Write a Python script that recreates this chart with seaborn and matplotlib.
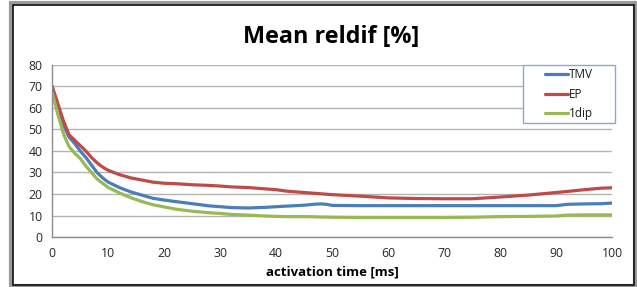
import pandas as pd
import numpy as np
import matplotlib.pyplot as plt
import seaborn as sns
from matplotlib.patches import Rectangle

# activation time [ms] and mean reldif [%]
t_ms = [0, 1, 2, 3, 4, 5, 6, 7, 8, 9, 10, 12, 14, 16, 18, 20, 22, 25, 28, 30,
        32, 35, 38, 40, 42, 45, 47, 48, 49, 50, 55, 60, 65, 70, 75, 80, 85, 90,
        92, 95, 98, 100]

tmv = [69, 60, 52, 46.5, 43.5, 40, 37, 33.5, 30, 27.5, 25.5, 23, 21, 19.5, 18,
       17.2, 16.5, 15.5, 14.5, 14.1, 13.7, 13.5, 13.8, 14.1, 14.4, 14.8, 15.3,
       15.4, 15.2, 14.7, 14.6, 14.6, 14.6, 14.6, 14.6, 14.6, 14.6, 14.6, 15.2,
       15.4, 15.5, 15.8]

ep = [70, 62, 54, 47.5, 45, 42.5, 40, 37, 34.5, 32.5, 31, 29, 27.5, 26.5, 25.5,
      25, 24.8, 24.3, 24, 23.7, 23.3, 23, 22.4, 22, 21.3, 20.7, 20.3, 20.1,
      19.9, 19.7, 19, 18.2, 17.9, 17.8, 17.8, 18.6, 19.5, 20.7, 21.2, 22, 22.7,
      22.9]

dip1 = [67, 57, 48, 42, 39, 36.5, 33, 30, 27, 25, 23, 20.5, 18.3, 16.5, 15, 14,
        13, 12, 11.3, 11, 10.5, 10.2, 9.8, 9.6, 9.5, 9.5, 9.4, 9.3, 9.3, 9.2,
        9.1, 9.1, 9.1, 9.1, 9.2, 9.5, 9.6, 9.8, 10.2, 10.3, 10.3, 10.3]

series_names = ['TMV', 'EP', '1dip']
colors = ['#4A7EBB', '#BE4B48', '#98B954']

df = pd.DataFrame({'t': t_ms * 3,
                   'val': tmv + ep + dip1,
                   'series': [s for s in series_names for _ in t_ms]})

sns.set_style('white')
plt.rcParams['font.family'] = ['Open Sans', 'DejaVu Sans']

fig = plt.figure(figsize=(6.37, 2.87), dpi=100)
ax = fig.add_axes([0.082, 0.174, 0.879, 0.60])

sns.lineplot(data=df, x='t', y='val', hue='series', hue_order=series_names,
             palette=colors, linewidth=2.3, ax=ax)

ax.set_xlim(0, 100)
ax.set_ylim(0, 80)
ax.set_xticks(np.arange(0, 101, 10))
ax.set_yticks(np.arange(0, 81, 10))
ax.yaxis.grid(True, color='#B4B4B4', linewidth=1)
ax.xaxis.grid(False)
ax.set_axisbelow(True)
for s in ['top', 'right']:
    ax.spines[s].set_visible(False)
for s in ['left', 'bottom']:
    ax.spines[s].set_color('#8C8C8C')
    ax.spines[s].set_linewidth(1)
ax.tick_params(axis='both', direction='out', length=4, width=1, color='#8C8C8C',
               labelsize=8.8, labelcolor='#262626', pad=3)

ax.set_xlabel('activation time [ms]', fontsize=9.5, fontweight='bold',
              color='black', labelpad=4)
ax.set_ylabel('')
fig.text(0.52, 0.871, 'Mean reldif [%]', ha='center', va='center',
         fontsize=16.8, fontweight='bold', color='black')

# legend without frame, box drawn separately to match the wide padding
leg = ax.legend(loc='center', bbox_to_anchor=(0.923, 0.83), frameon=False,
                fontsize=8.5, handlelength=1.9, handletextpad=0.1,
                labelspacing=0.55, borderpad=0)
for txt in leg.get_texts():
    txt.set_color('#1a1a1a')
ax.add_patch(Rectangle((0.841, 0.663), 0.164, 0.337, transform=ax.transAxes,
                       fill=True, facecolor='white', edgecolor='#8EA9C8',
                       linewidth=1, zorder=4, clip_on=False))
leg.set_zorder(5)

# outer chart border
fig.patches.append(Rectangle((0.017, 0.003), 0.98, 0.985, transform=fig.transFigure,
                             fill=False, edgecolor='#9A9A9A', linewidth=3))
fig.patches.append(Rectangle((0.020, 0.006), 0.975, 0.978, transform=fig.transFigure,
                             fill=False, edgecolor='#111111', linewidth=1.2))

fig.savefig('out.png', dpi=100)
